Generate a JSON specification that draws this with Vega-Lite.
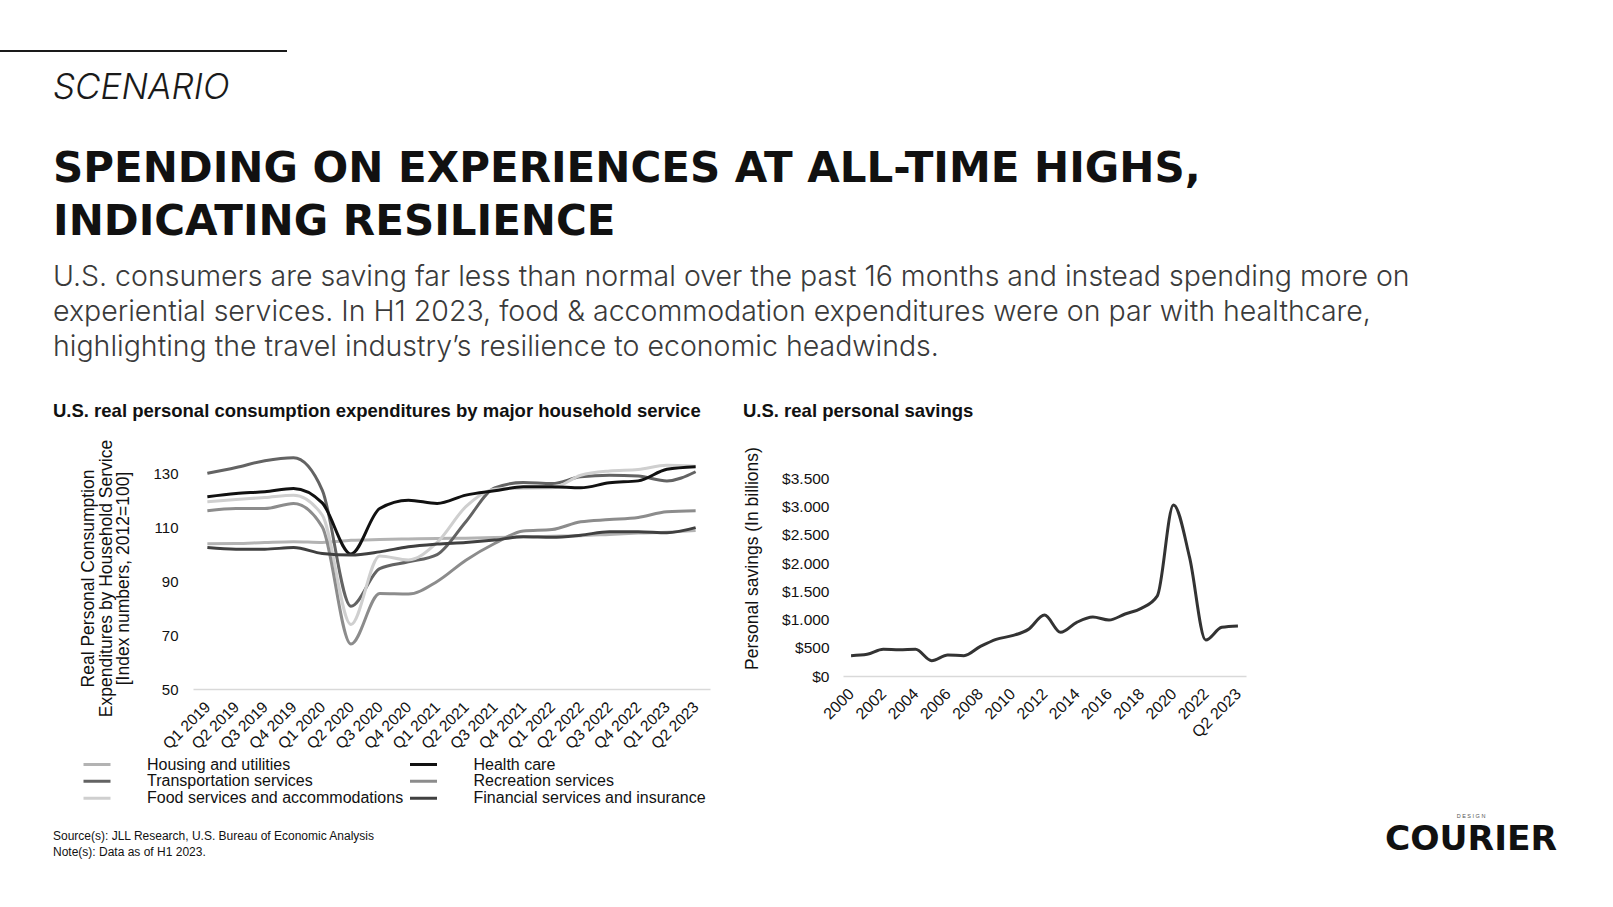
{
  "$schema": "https://vega.github.io/schema/vega-lite/v6.json",
  "background": "white",
  "padding": {"left": 0, "top": 50, "right": 0, "bottom": 0},
  "bounds": "flush",
  "spacing": 395,
  "config": {
    "view": {"stroke": null},
    "font": "Liberation Sans",
    "axis": {"labelColor": "#111", "titleColor": "#111", "labelFont": "Liberation Sans", "titleFont": "Liberation Sans", "titleFontWeight": "normal", "grid": false, "ticks": false}
  },
  "datasets": {
    "pce": [
      {"quarter": "Q1 2019", "series": "Housing and utilities", "value": 104.0},
      {"quarter": "Q2 2019", "series": "Housing and utilities", "value": 104.1},
      {"quarter": "Q3 2019", "series": "Housing and utilities", "value": 104.5},
      {"quarter": "Q4 2019", "series": "Housing and utilities", "value": 104.8},
      {"quarter": "Q1 2020", "series": "Housing and utilities", "value": 104.5},
      {"quarter": "Q2 2020", "series": "Housing and utilities", "value": 105.3},
      {"quarter": "Q3 2020", "series": "Housing and utilities", "value": 105.6},
      {"quarter": "Q4 2020", "series": "Housing and utilities", "value": 105.8},
      {"quarter": "Q1 2021", "series": "Housing and utilities", "value": 106.0},
      {"quarter": "Q2 2021", "series": "Housing and utilities", "value": 106.1},
      {"quarter": "Q3 2021", "series": "Housing and utilities", "value": 106.3},
      {"quarter": "Q4 2021", "series": "Housing and utilities", "value": 106.6},
      {"quarter": "Q1 2022", "series": "Housing and utilities", "value": 106.8},
      {"quarter": "Q2 2022", "series": "Housing and utilities", "value": 107.0},
      {"quarter": "Q3 2022", "series": "Housing and utilities", "value": 107.5},
      {"quarter": "Q4 2022", "series": "Housing and utilities", "value": 108.0},
      {"quarter": "Q1 2023", "series": "Housing and utilities", "value": 108.3},
      {"quarter": "Q2 2023", "series": "Housing and utilities", "value": 108.9},
      {"quarter": "Q1 2019", "series": "Transportation services", "value": 130.2},
      {"quarter": "Q2 2019", "series": "Transportation services", "value": 132.4},
      {"quarter": "Q3 2019", "series": "Transportation services", "value": 134.9},
      {"quarter": "Q4 2019", "series": "Transportation services", "value": 136.0},
      {"quarter": "Q1 2020", "series": "Transportation services", "value": 124.0},
      {"quarter": "Q2 2020", "series": "Transportation services", "value": 80.8},
      {"quarter": "Q3 2020", "series": "Transportation services", "value": 94.8},
      {"quarter": "Q4 2020", "series": "Transportation services", "value": 97.3},
      {"quarter": "Q1 2021", "series": "Transportation services", "value": 100.0},
      {"quarter": "Q2 2021", "series": "Transportation services", "value": 112.2},
      {"quarter": "Q3 2021", "series": "Transportation services", "value": 124.8},
      {"quarter": "Q4 2021", "series": "Transportation services", "value": 126.8},
      {"quarter": "Q1 2022", "series": "Transportation services", "value": 126.4},
      {"quarter": "Q2 2022", "series": "Transportation services", "value": 128.9},
      {"quarter": "Q3 2022", "series": "Transportation services", "value": 129.5},
      {"quarter": "Q4 2022", "series": "Transportation services", "value": 129.2},
      {"quarter": "Q1 2023", "series": "Transportation services", "value": 127.4},
      {"quarter": "Q2 2023", "series": "Transportation services", "value": 130.8},
      {"quarter": "Q1 2019", "series": "Food services and accommodations", "value": 119.6},
      {"quarter": "Q2 2019", "series": "Food services and accommodations", "value": 120.5},
      {"quarter": "Q3 2019", "series": "Food services and accommodations", "value": 121.2},
      {"quarter": "Q4 2019", "series": "Food services and accommodations", "value": 122.1},
      {"quarter": "Q1 2020", "series": "Food services and accommodations", "value": 114.7},
      {"quarter": "Q2 2020", "series": "Food services and accommodations", "value": 74.0},
      {"quarter": "Q3 2020", "series": "Food services and accommodations", "value": 99.5},
      {"quarter": "Q4 2020", "series": "Food services and accommodations", "value": 98.0},
      {"quarter": "Q1 2021", "series": "Food services and accommodations", "value": 104.5},
      {"quarter": "Q2 2021", "series": "Food services and accommodations", "value": 117.8},
      {"quarter": "Q3 2021", "series": "Food services and accommodations", "value": 124.3},
      {"quarter": "Q4 2021", "series": "Food services and accommodations", "value": 124.7},
      {"quarter": "Q1 2022", "series": "Food services and accommodations", "value": 124.8},
      {"quarter": "Q2 2022", "series": "Food services and accommodations", "value": 129.5},
      {"quarter": "Q3 2022", "series": "Food services and accommodations", "value": 131.1},
      {"quarter": "Q4 2022", "series": "Food services and accommodations", "value": 131.6},
      {"quarter": "Q1 2023", "series": "Food services and accommodations", "value": 133.2},
      {"quarter": "Q2 2023", "series": "Food services and accommodations", "value": 132.8},
      {"quarter": "Q1 2019", "series": "Health care", "value": 121.5},
      {"quarter": "Q2 2019", "series": "Health care", "value": 122.7},
      {"quarter": "Q3 2019", "series": "Health care", "value": 123.4},
      {"quarter": "Q4 2019", "series": "Health care", "value": 124.6},
      {"quarter": "Q1 2020", "series": "Health care", "value": 119.2},
      {"quarter": "Q2 2020", "series": "Health care", "value": 100.2},
      {"quarter": "Q3 2020", "series": "Health care", "value": 117.1},
      {"quarter": "Q4 2020", "series": "Health care", "value": 120.2},
      {"quarter": "Q1 2021", "series": "Health care", "value": 119.0},
      {"quarter": "Q2 2021", "series": "Health care", "value": 122.1},
      {"quarter": "Q3 2021", "series": "Health care", "value": 123.7},
      {"quarter": "Q4 2021", "series": "Health care", "value": 125.2},
      {"quarter": "Q1 2022", "series": "Health care", "value": 125.2},
      {"quarter": "Q2 2022", "series": "Health care", "value": 124.8},
      {"quarter": "Q3 2022", "series": "Health care", "value": 126.7},
      {"quarter": "Q4 2022", "series": "Health care", "value": 127.4},
      {"quarter": "Q1 2023", "series": "Health care", "value": 131.7},
      {"quarter": "Q2 2023", "series": "Health care", "value": 132.7},
      {"quarter": "Q1 2019", "series": "Recreation services", "value": 116.3},
      {"quarter": "Q2 2019", "series": "Recreation services", "value": 117.1},
      {"quarter": "Q3 2019", "series": "Recreation services", "value": 117.1},
      {"quarter": "Q4 2019", "series": "Recreation services", "value": 119.0},
      {"quarter": "Q1 2020", "series": "Recreation services", "value": 110.3},
      {"quarter": "Q2 2020", "series": "Recreation services", "value": 66.7},
      {"quarter": "Q3 2020", "series": "Recreation services", "value": 85.5},
      {"quarter": "Q4 2020", "series": "Recreation services", "value": 85.3},
      {"quarter": "Q1 2021", "series": "Recreation services", "value": 90.0},
      {"quarter": "Q2 2021", "series": "Recreation services", "value": 97.9},
      {"quarter": "Q3 2021", "series": "Recreation services", "value": 104.1},
      {"quarter": "Q4 2021", "series": "Recreation services", "value": 108.8},
      {"quarter": "Q1 2022", "series": "Recreation services", "value": 109.3},
      {"quarter": "Q2 2022", "series": "Recreation services", "value": 112.2},
      {"quarter": "Q3 2022", "series": "Recreation services", "value": 113.0},
      {"quarter": "Q4 2022", "series": "Recreation services", "value": 113.8},
      {"quarter": "Q1 2023", "series": "Recreation services", "value": 115.9},
      {"quarter": "Q2 2023", "series": "Recreation services", "value": 116.3},
      {"quarter": "Q1 2019", "series": "Financial services and insurance", "value": 102.6},
      {"quarter": "Q2 2019", "series": "Financial services and insurance", "value": 102.0},
      {"quarter": "Q3 2019", "series": "Financial services and insurance", "value": 102.0},
      {"quarter": "Q4 2019", "series": "Financial services and insurance", "value": 102.6},
      {"quarter": "Q1 2020", "series": "Financial services and insurance", "value": 100.4},
      {"quarter": "Q2 2020", "series": "Financial services and insurance", "value": 99.8},
      {"quarter": "Q3 2020", "series": "Financial services and insurance", "value": 101.0},
      {"quarter": "Q4 2020", "series": "Financial services and insurance", "value": 102.9},
      {"quarter": "Q1 2021", "series": "Financial services and insurance", "value": 103.9},
      {"quarter": "Q2 2021", "series": "Financial services and insurance", "value": 104.5},
      {"quarter": "Q3 2021", "series": "Financial services and insurance", "value": 105.4},
      {"quarter": "Q4 2021", "series": "Financial services and insurance", "value": 106.6},
      {"quarter": "Q1 2022", "series": "Financial services and insurance", "value": 106.4},
      {"quarter": "Q2 2022", "series": "Financial services and insurance", "value": 107.2},
      {"quarter": "Q3 2022", "series": "Financial services and insurance", "value": 108.5},
      {"quarter": "Q4 2022", "series": "Financial services and insurance", "value": 108.5},
      {"quarter": "Q1 2023", "series": "Financial services and insurance", "value": 108.1},
      {"quarter": "Q2 2023", "series": "Financial services and insurance", "value": 110.0}
    ],
    "savings": [
      {"period": "2000", "savings": 360},
      {"period": "2001", "savings": 384},
      {"period": "2002", "savings": 472},
      {"period": "2003", "savings": 466},
      {"period": "2004", "savings": 472},
      {"period": "2005", "savings": 272},
      {"period": "2006", "savings": 372},
      {"period": "2007", "savings": 360},
      {"period": "2008", "savings": 520},
      {"period": "2009", "savings": 650},
      {"period": "2010", "savings": 714},
      {"period": "2011", "savings": 826},
      {"period": "2012", "savings": 1080},
      {"period": "2013", "savings": 773},
      {"period": "2014", "savings": 950},
      {"period": "2015", "savings": 1045},
      {"period": "2016", "savings": 992},
      {"period": "2017", "savings": 1098},
      {"period": "2018", "savings": 1198},
      {"period": "2019", "savings": 1420},
      {"period": "2020", "savings": 3028},
      {"period": "2021", "savings": 2100},
      {"period": "2022", "savings": 637},
      {"period": "Q1 2023", "savings": 862},
      {"period": "Q2 2023", "savings": 885}
    ]
  },
  "vconcat": [
    {
      "width": 287,
      "height": 2,
      "view": {"fill": "#1a1a1a", "stroke": null},
      "data": {"values": []},
      "mark": "point",
      "encoding": {},
      "title": {"text": "SCENARIO", "orient": "bottom", "anchor": "start", "frame": "group", "dx": 53, "offset": 19, "font": "Inter", "fontSize": 35, "fontStyle": "italic", "fontWeight": 300, "color": "#1a1a1a"}
    },
    {
      "bounds": "flush",
      "spacing": 423,
      "vconcat": [
        {
          "title": {
            "text": ["SPENDING ON EXPERIENCES AT ALL-TIME HIGHS,", "INDICATING RESILIENCE"],
            "subtitle": ["U.S. consumers are saving far less than normal over the past 16 months and instead spending more on", "experiential services. In H1 2023, food & accommodation expenditures were on par with healthcare,", "highlighting the travel industry’s resilience to economic headwinds."],
            "anchor": "start", "frame": "group", "dx": 53, "offset": 39,
            "font": "DejaVu Sans", "fontSize": 42, "fontWeight": "bold", "lineHeight": 53, "color": "#111",
            "subtitleFont": "Inter", "subtitleFontSize": 28.5, "subtitleFontWeight": 300, "subtitleLineHeight": 35, "subtitleColor": "#3a3a3a", "subtitlePadding": 19
          },
          "bounds": "flush",
          "spacing": 133,
          "hconcat": [
            {"width": 60, "height": 242, "data": {"values": []}, "mark": "point", "encoding": {}},
            {
              "width": 517,
              "height": 242,
              "data": {"name": "pce"},
              "title": {"text": "U.S. real personal consumption expenditures by major household service", "anchor": "start", "frame": "group", "dx": -140, "offset": 19, "font": "Liberation Sans", "fontSize": 18.5, "fontWeight": "bold", "color": "#111"},
              "mark": {"type": "line", "interpolate": "monotone", "strokeWidth": 3},
              "encoding": {
                "x": {"field": "quarter", "type": "ordinal", "sort": null, "scale": {"type": "point", "padding": 0.5},
                  "axis": {"title": null, "labelAngle": -45, "labelBaseline": "middle", "labelFontSize": 15.5, "domainColor": "#d9d9d9", "domainWidth": 1.5, "labelPadding": 15}},
                "y": {"field": "value", "type": "quantitative", "scale": {"domain": [50, 140], "nice": false, "zero": false},
                  "axis": {"values": [50, 70, 90, 110, 130], "title": ["Real Personal Consumption", "Expenditures by Household Service", "[Index numbers, 2012=100]"], "titleFontSize": 17.5, "titleLineHeight": 17.5, "titleY": 131, "titlePadding": 20, "labelFontSize": 15, "labelPadding": 15, "domain": false}},
                "color": {"field": "series", "type": "nominal",
                  "scale": {"domain": ["Housing and utilities", "Transportation services", "Food services and accommodations", "Health care", "Recreation services", "Financial services and insurance"],
                    "range": ["#b3b3b3", "#636363", "#cfcfcf", "#111111", "#8c8c8c", "#404040"]},
                  "legend": {"title": null, "orient": "none", "legendX": 82, "legendY": 706, "columns": 2, "symbolType": "stroke", "symbolSize": 729, "symbolStrokeWidth": 3, "clipHeight": 16.5, "labelFontSize": 16, "labelFont": "Liberation Sans", "labelColor": "#111", "labelOffset": 35, "columnPadding": 4.5, "rowPadding": 0, "padding": 0, "labelLimit": 400}}
              }
            },
            {
              "width": 403,
              "height": 229,
              "data": {"name": "savings"},
              "title": {"text": "U.S. real personal savings", "anchor": "start", "frame": "group", "dx": -100, "offset": 26, "font": "Liberation Sans", "fontSize": 18.5, "fontWeight": "bold", "color": "#111"},
              "mark": {"type": "line", "interpolate": "monotone", "strokeWidth": 3, "color": "#333333"},
              "encoding": {
                "x": {"field": "period", "type": "ordinal", "sort": null, "scale": {"type": "point", "padding": 0.5},
                  "axis": {"title": null, "values": ["2000", "2002", "2004", "2006", "2008", "2010", "2012", "2014", "2016", "2018", "2020", "2022", "Q2 2023"], "labelAngle": -45, "labelBaseline": "middle", "labelFontSize": 16, "domainColor": "#d9d9d9", "domainWidth": 1.5, "labelPadding": 15}},
                "y": {"field": "savings", "type": "quantitative", "scale": {"domain": [0, 4056], "nice": false},
                  "axis": {"values": [0, 500, 1000, 1500, 2000, 2500, 3000, 3500], "labelExpr": "'$' + replace(format(datum.value, ','), ',', '.')", "title": "Personal savings (In billions)", "titleFontSize": 17.5, "titleY": 111, "titlePadding": 20, "labelFontSize": 15.5, "labelPadding": 14, "domain": false}}
              }
            }
          ]
        },
        {
          "bounds": "flush",
          "spacing": 20,
          "hconcat": [
            {"width": 1351, "height": 1, "data": {"values": []}, "mark": "point", "encoding": {},
              "title": {"text": "Source(s): JLL Research, U.S. Bureau of Economic Analysis", "subtitle": "Note(s): Data as of H1 2023.", "anchor": "start", "frame": "group", "dx": 53, "offset": 11, "font": "Liberation Sans", "fontSize": 12, "fontWeight": "normal", "color": "#111", "subtitleFont": "Liberation Sans", "subtitleFontSize": 12, "subtitleColor": "#111", "subtitlePadding": 4}},
            {"width": 200, "height": 1, "data": {"values": []}, "mark": "point", "encoding": {},
              "title": {"text": "D E S I G N", "subtitle": "COURIER", "anchor": "middle", "frame": "group", "offset": 14, "font": "Liberation Sans", "fontSize": 5.5, "fontWeight": "normal", "color": "#555", "subtitleFont": "DejaVu Sans", "subtitleFontWeight": "bold", "subtitleFontSize": 34.5, "subtitleColor": "#111", "subtitlePadding": 3}}
          ]
        }
      ]
    }
  ]
}
